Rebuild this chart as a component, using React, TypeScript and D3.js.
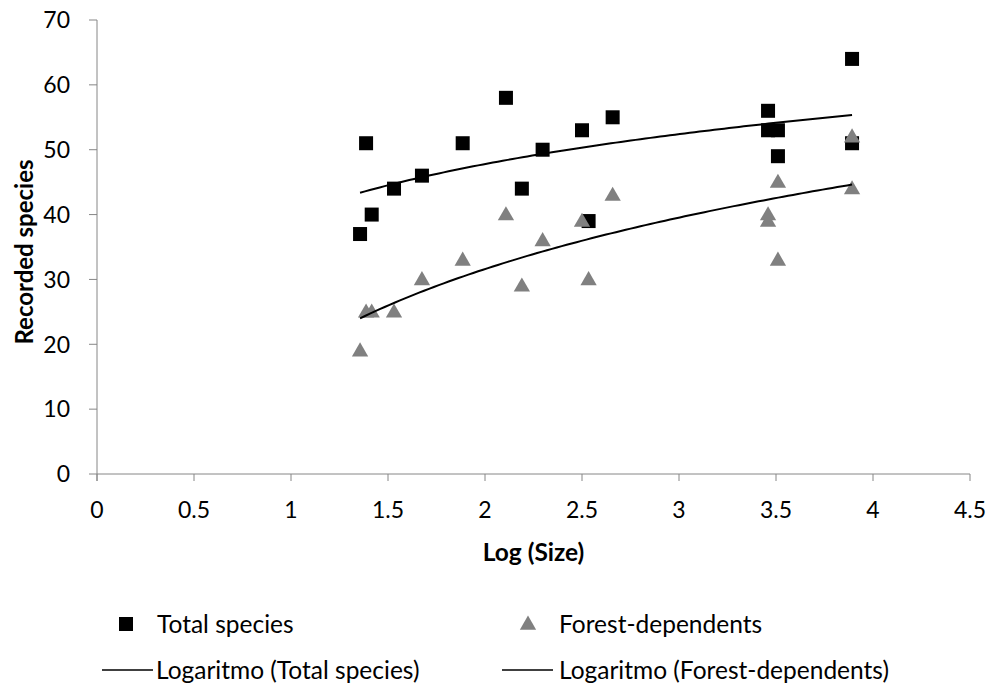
import React from 'react'
import * as d3 from 'd3'

// site sizes (log) shared by both series
const logSize = [1.356, 1.387, 1.416, 1.531, 1.675, 1.885, 2.108, 2.19, 2.297, 2.5, 2.534, 2.658, 3.459, 3.459, 3.51, 3.51, 3.892, 3.892]
const totalSpecies = [37, 51, 40, 44, 46, 51, 58, 44, 50, 53, 39, 55, 56, 53, 53, 49, 64, 51]
const forestDependents = [19, 25, 25, 25, 30, 33, 40, 29, 36, 39, 30, 43, 40, 39, 45, 33, 52, 44]

const xTicks = [0, 0.5, 1, 1.5, 2, 2.5, 3, 3.5, 4, 4.5]
const yTicks = [0, 10, 20, 30, 40, 50, 60, 70]

const W = 989
const H = 686
const FONT = 'Lato, "Open Sans", sans-serif'
const AXIS = '#868686'

// least squares fit of y = a*ln(x) + b
function logFit(xs: number[], ys: number[]) {
    const lx = xs.map(Math.log)
    const mx = d3.mean(lx)!
    const my = d3.mean(ys)!
    let sxy = 0, sxx = 0
    lx.forEach((v, i) => { sxy += (v - mx) * (ys[i] - my); sxx += (v - mx) * (v - mx) })
    const a = sxy / sxx
    const b = my - a * mx
    return (x: number) => a * Math.log(x) + b
}

export default function App() {
    const x = d3.scaleLinear().domain([0, 4.5]).range([97, 970])
    const y = d3.scaleLinear().domain([0, 70]).range([474, 20])

    const [xmin, xmax] = d3.extent(logSize) as [number, number]
    const trendXs = d3.range(0, 101).map(i => xmin + (xmax - xmin) * i / 100)

    const line = (f: (v: number) => number) =>
        d3.line<number>().x(d => x(d)).y(d => y(f(d)))(trendXs) || ''

    const fitTotal = logFit(logSize, totalSpecies)
    const fitForest = logFit(logSize, forestDependents)

    const sq = 14
    const tri = d3.symbol().type(d3.symbolTriangle).size(115)()

    const row1 = 624
    const row2 = 670

    return (
        <svg width={W} height={H} style={{ position: 'absolute', left: 0, top: 0, background: '#fff' }}
            fontFamily={FONT}>
            {/* axes */}
            <line x1={x(0)} x2={x(4.5)} y1={y(0)} y2={y(0)} stroke={AXIS} strokeWidth={1} />
            <line x1={x(0)} x2={x(0)} y1={y(70)} y2={y(0) + 7} stroke={AXIS} strokeWidth={1} />
            {yTicks.map(t => (
                <g key={'y' + t}>
                    <line x1={x(0) - 8} x2={x(0)} y1={y(t)} y2={y(t)} stroke={AXIS} />
                    <text x={x(0) - 27} y={y(t)} dy="0.36em" textAnchor="end" fontSize={23}>{t}</text>
                </g>
            ))}
            {xTicks.map(t => (
                <g key={'x' + t}>
                    <line x1={x(t)} x2={x(t)} y1={y(0)} y2={y(0) + 7} stroke={AXIS} />
                    <text x={x(t)} y={510} dy="0.36em" textAnchor="middle" fontSize={23}>{t}</text>
                </g>
            ))}

            {/* titles */}
            <text x={(x(0) + x(4.5)) / 2} y={552} dy="0.36em" textAnchor="middle" fontSize={24.5} fontWeight="bold">Log (Size)</text>
            <text transform={`translate(24,${(y(0) + y(70)) / 2 + 5}) rotate(-90)`} dy="0.36em" textAnchor="middle"
                fontSize={24} fontWeight="bold">Recorded species</text>

            {/* points */}
            {logSize.map((v, i) => (
                <rect key={'t' + i} x={x(v) - sq / 2} y={y(totalSpecies[i]) - sq / 2} width={sq} height={sq} fill="#000" />
            ))}
            {logSize.map((v, i) => (
                <path key={'f' + i} d={tri} transform={`translate(${x(v)},${y(forestDependents[i]) + 1})`} fill="#808080" />
            ))}

            {/* trend lines */}
            <path d={line(fitTotal)} fill="none" stroke="#000" strokeWidth={2} />
            <path d={line(fitForest)} fill="none" stroke="#000" strokeWidth={2} />

            {/* legend */}
            <g fontSize={24.5}>
                <rect x={126 - sq / 2} y={row1 - sq / 2} width={sq} height={sq} fill="#000" />
                <text x={157} y={row1} dy="0.36em">Total species</text>
                <path d={tri} transform={`translate(528,${row1 + 1})`} fill="#808080" />
                <text x={559} y={row1} dy="0.36em">Forest-dependents</text>
                <line x1={102} x2={153} y1={row2} y2={row2} stroke="#000" strokeWidth={1.5} />
                <text x={156} y={row2} dy="0.36em">Logaritmo (Total species)</text>
                <line x1={502} x2={553} y1={row2} y2={row2} stroke="#000" strokeWidth={1.5} />
                <text x={559} y={row2} dy="0.36em">Logaritmo (Forest-dependents)</text>
            </g>
        </svg>
    )
}
